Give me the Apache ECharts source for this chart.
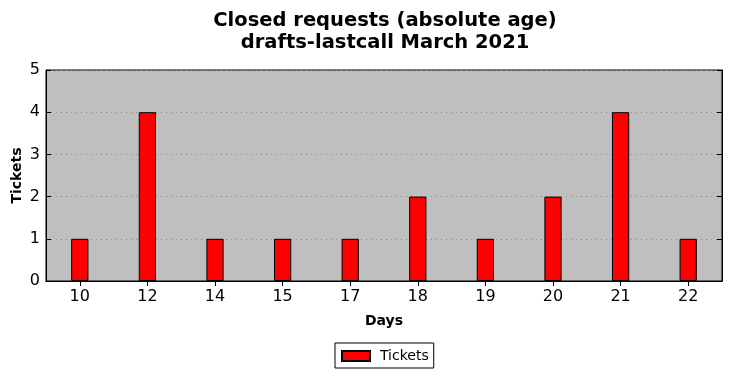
<!DOCTYPE html>
<html>
<head>
<meta charset="utf-8">
<script src="https://cdn.jsdelivr.net/npm/echarts@6/dist/echarts.min.js"></script>
<style>
  html, body { margin: 0; padding: 0; background: #fff; }
  #chart { width: 732px; height: 378px; }
</style>
</head>
<body>
<div id="chart"></div>
<script>
// 数据
var days = ['10', '12', '14', '15', '17', '18', '19', '20', '21', '22'];
var tickets = [1, 4, 1, 1, 1, 2, 1, 2, 4, 1];

var myChart = echarts.init(document.getElementById('chart'));
var font = 'DejaVu Sans';

var tickStyle = { show: true, inside: true, length: 5, lineStyle: { color: '#000' } };

var option = {
    animation: false,
    textStyle: { fontFamily: font },
    title: {
        text: 'Closed requests (absolute age)\ndrafts-lastcall March 2021',
        left: 380,
        textAlign: 'center',
        top: 5,
        textStyle: { fontSize: 19.5, fontWeight: 'bold', color: '#000', lineHeight: 22, fontFamily: font }
    },
    legend: {
        data: ['Tickets'],
        icon: 'rect',
        left: 335,
        top: 343,
        itemWidth: 28,
        itemHeight: 10,
        padding: [6, 5, 5, 6],
        borderColor: '#000',
        borderWidth: 1,
        backgroundColor: '#fff',
        borderRadius: 0,
        textStyle: { fontSize: 14, color: '#000', fontFamily: font, padding: [0, 0, 0, 5] }
    },
    grid: {
        left: 46, right: 10, top: 70, bottom: 97,
        outerBoundsMode: 'none',
        containLabel: false,
        show: true,
        backgroundColor: '#bfbfbf',
        borderColor: '#000',
        borderWidth: 1
    },
    xAxis: [{
        type: 'category',
        data: days,
        name: 'Days',
        nameLocation: 'middle',
        nameGap: 33,
        nameTextStyle: { fontSize: 14, fontWeight: 'bold', color: '#000' },
        axisLine: { lineStyle: { color: '#000' } },
        axisTick: Object.assign({ alignWithLabel: true }, tickStyle),
        axisLabel: { fontSize: 16, color: '#000', margin: 8 }
    }, {
        type: 'category',
        data: days,
        position: 'top',
        axisLine: { lineStyle: { color: '#000' } },
        axisTick: Object.assign({ alignWithLabel: true }, tickStyle),
        axisLabel: { show: false }
    }],
    yAxis: [{
        type: 'value',
        min: 0, max: 5, interval: 1,
        name: 'Tickets',
        nameLocation: 'middle',
        nameGap: 22,
        nameMoveOverlap: false,
        nameTextStyle: { fontSize: 14, fontWeight: 'bold', color: '#000' },
        axisLine: { show: true, lineStyle: { color: '#000' } },
        axisTick: tickStyle,
        axisLabel: { fontSize: 16, color: '#000', margin: 6 },
        splitLine: { show: true, lineStyle: { color: '#888', type: [1, 4] } }
    }, {
        type: 'value',
        min: 0, max: 5, interval: 1,
        position: 'right',
        axisLine: { show: true, lineStyle: { color: '#000' } },
        axisTick: tickStyle,
        axisLabel: { show: false },
        splitLine: { show: false }
    }],
    series: [{
        name: 'Tickets',
        type: 'bar',
        data: tickets,
        barWidth: '25.5%',
        itemStyle: { color: '#ff0000', borderColor: '#000', borderWidth: 1 }
    }]
};

myChart.setOption(option);
</script>
</body>
</html>
